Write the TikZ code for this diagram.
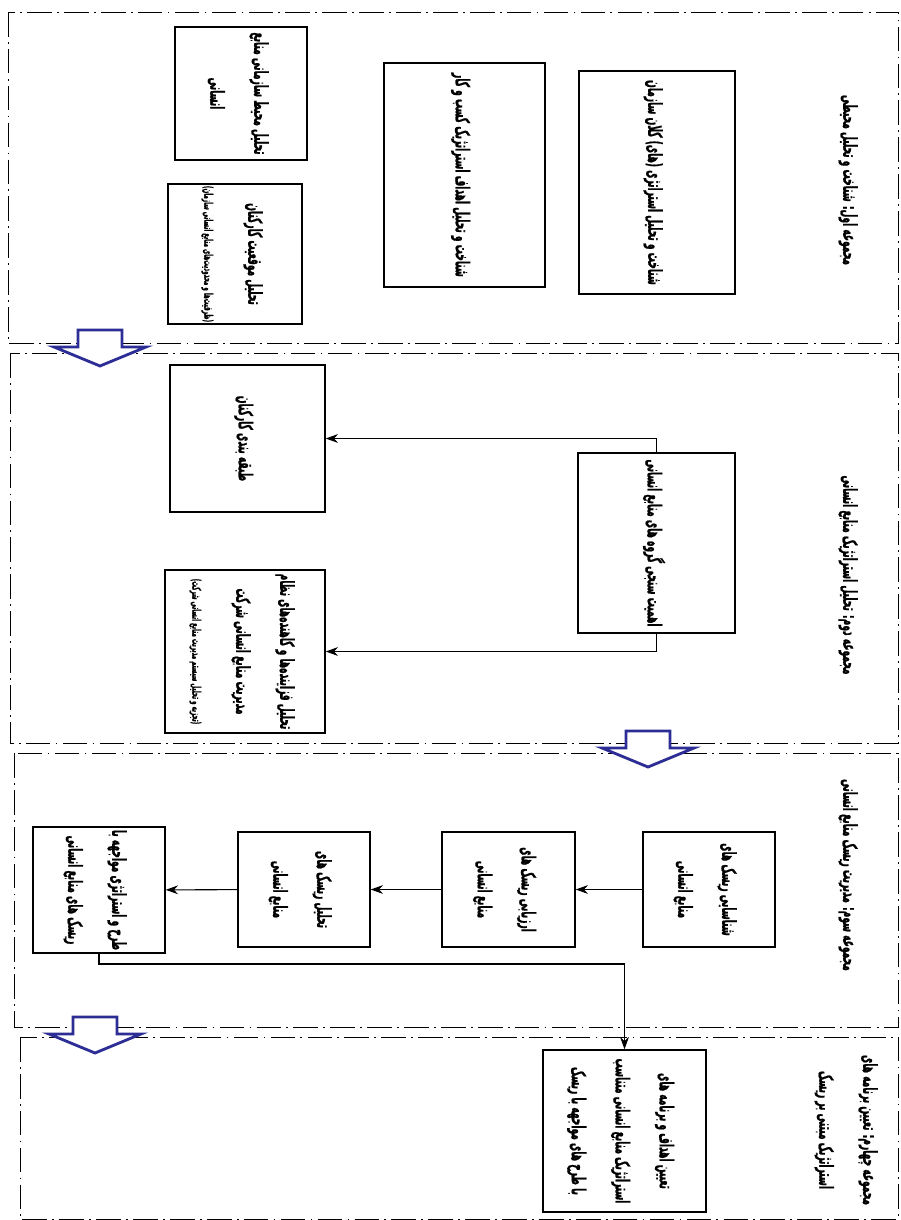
\documentclass[tikz,border=0pt]{standalone}
\usepackage{fontspec}
\usepackage{graphicx}
\usetikzlibrary{arrows.meta}
\TeXXeTstate=1
\newfontfamily\fafont[Script=Arabic,FakeStretch=0.47,BoldFeatures={FakeBold=0.8}]{DejaVu Sans}
\definecolor{arrowblue}{RGB}{45,45,150}
\newcommand\R[1]{\beginR #1\endR}
\newcommand\sm{\fontsize{6.8pt}{25pt}\selectfont}
\newcommand\vtext[1]{\rotatebox{-90}{\fafont\bfseries\fontsize{11pt}{25pt}\selectfont\begin{tabular}{@{}c@{}}#1\end{tabular}}}
\def\fabox(#1)(#2,#3,#4,#5)#6{\node[fabox, minimum width={(#4-#2)*0.02cm}, minimum height={(#5-#3)*0.02cm}] (#1) at ({(#2+#4)/2},{(#3+#5)/2}) {\vtext{#6}};}
\def\blkarrow(#1,#2){\draw[blk] (#1-22,#2) -- (#1+22,#2) -- (#1+22,#2+17) -- (#1+46,#2+17) -- (#1,#2+36) -- (#1-46,#2+17) -- (#1-22,#2+17) -- cycle;}

\begin{document}
\begin{tikzpicture}[x=0.02cm, y=-0.02cm,
    fabox/.style={draw, line width=0.8pt, inner sep=0pt},
    secline/.style={line width=0.5pt, dash pattern=on 14pt off 3pt on 1pt off 3pt},
    conn/.style={line width=0.6pt, -{Stealth[length=7pt,width=5pt]}},
    blk/.style={draw=arrowblue, fill=white, line width=1.6pt}]
    %%%%% START %%%%%
    \useasboundingbox (0,0) rectangle (901,1220);

    % sections
    \draw[secline] (8,12) rectangle (898,343);
    \draw[secline] (10,353) rectangle (898,743);
    \draw[secline] (14,753) rectangle (898,1027);
    \draw[secline] (20,1037) rectangle (898,1219);

    % section 1
    \fabox(envhr)(175,27,307,160){\R{تحلیل محیط سازمانی منابع}\\\R{انسانی}}
    \fabox(staff)(168,184,302,324){\R{تحلیل موقعیت کارکنان}\\\sm\R{(ظرفیت‌ها و محدودیت‌های منابع انسانی سازمان)}}
    \fabox(goals)(384,63,545,287){\R{شناخت و تحلیل اهداف استراتژیک کسب و کار}}
    \fabox(strat)(579,71,735,294){\R{شناخت و تحلیل استراتژی (های) کلان سازمان}}
    \node (lab1) at (852,180) {\vtext{\R{مجموعه اول: شناخت و تحلیل محیطی}}};

    \blkarrow(100,330)

    % section 2
    \fabox(cls)(170,365,325,512){\R{طبقه بندی کارکنان}}
    \fabox(fac)(165,570,325,733){\R{تحلیل فزاینده‌ها و کاهنده‌های نظام}\\\R{مدیریت منابع انسانی شرکت}\\\sm\R{(تجزیه و تحلیل سیستم مدیریت منابع انسانی شرکت)}}
    \fabox(imp)(578,453,735,633){\R{اهمیت سنجی گروه های منابع انسانی}}
    \node (lab2) at (852,575) {\vtext{\R{مجموعه دوم: تحلیل استراتژیک منابع انسانی}}};

    \draw[conn] (imp) |- (cls);
    \draw[conn] (imp) |- (fac);

    \blkarrow(648,731)

    % section 3
    \fabox(riskA)(643,832,775,947){\R{شناسایی ریسک های}\\\R{منابع انسانی}}
    \fabox(riskB)(442,832,575,947){\R{ارزیابی ریسک های}\\\R{منابع انسانی}}
    \fabox(riskC)(238,832,370,947){\R{تحلیل ریسک های}\\\R{منابع انسانی}}
    \fabox(riskD)(33,827,165,953){\R{طرح و استراتژی مواجهه با}\\\R{ریسک های منابع انسانی}}
    \node (lab3) at (852,875) {\vtext{\R{مجموعه سوم: مدیریت ریسک منابع انسانی}}};

    \draw[conn] (riskA) -- (riskB);
    \draw[conn] (riskB) -- (riskC);
    \draw[conn] (riskC) -- (riskD);

    \blkarrow(95,1017)

    % section 4
    \fabox(plan)(543,1050,706,1212){\R{تعیین اهداف و برنامه های}\\\R{استراتژیک منابع انسانی متناسب}\\\R{با طرح های مواجهه با ریسک}}
    \node (lab4) at (850,1130) {\vtext{\R{مجموعه چهارم: تعیین برنامه های}\\\R{استراتژیک مبتنی بر ریسک}}};

    \draw[conn, line width=0.9pt] (riskD.south) -- ++(0,10) -| (plan.north);
    %%%%% END %%%%%
\end{tikzpicture}
\end{document}
